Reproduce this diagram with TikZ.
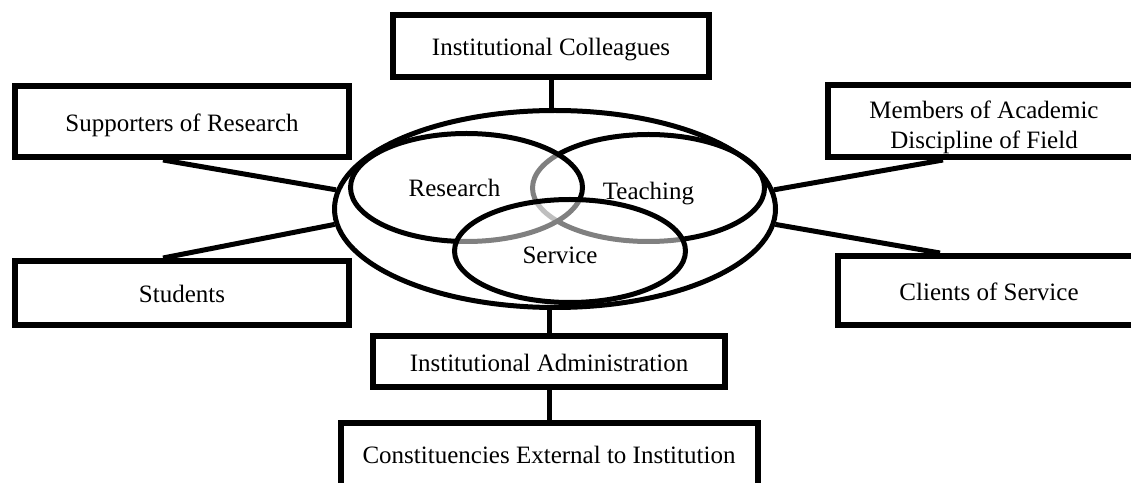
\documentclass[tikz,border=0pt]{standalone}
\usepackage{fontspec}
\setmainfont{Liberation Serif}
\usetikzlibrary{shapes.geometric,positioning}

\begin{document}
\begin{tikzpicture}[x=1pt,y=1pt,
  box/.style={draw, line width=6pt, rectangle, inner sep=0pt,
    text height=20pt, text depth=0pt},
  circle3/.style={draw, line width=5pt, ellipse, inner sep=0pt},
  link/.style={line width=5pt},
  font=\fontsize{25}{30}\selectfont]
  \useasboundingbox (0,0) rectangle (1131,482);
  \clip (0,0) rectangle (1131,482);
  \node (core) [circle3, minimum width=441, minimum height=197] at (555,273) {};
  \node (teaching) [circle3, minimum width=232, minimum height=107] at (648.5,294) {};
  \node (research) [circle3, fill=white, fill opacity=0.5,
    minimum width=232, minimum height=108] at (466.5,294.5) {};
  \node (service) [circle3, fill=white, fill opacity=0.5,
    minimum width=231, minimum height=103] at (570,231) {};
  \node (researchLabel) at ([xshift=-12pt]research.center) {Research};
  \node (teachingLabel) at ([yshift=-6pt]teaching.center) {Teaching};
  \node (serviceLabel) at ([xshift=-10pt,yshift=-4pt]service.center) {Service};
  \node (colleagues) [box, minimum width=316, minimum height=62,
    above=28pt of core, xshift=-4pt] {Institutional Colleagues};
  \node (admin) [box, minimum width=352, minimum height=51,
    below=23pt of core, xshift=-6pt] {Institutional Administration};
  \node (external) [box, minimum width=417, minimum height=70, text height=10pt,
    below=30pt of admin] {Constituencies External to Institution};
  \node (supporters) [box, minimum width=334, minimum height=71]
    at (182,360.5) {Supporters of Research};
  \node (students) [box, minimum width=334, minimum height=64]
    at (182,189) {Students};
  \node (members) [box, minimum width=312, minimum height=72]
    at (984,361) {};
  \node (membersLabel) [align=center] at ([yshift=-6pt]members.center)
    {Members of Academic\\Discipline of Field};
  \node (clients) [box, minimum width=302, minimum height=69]
    at (989,191.5) {Clients of Service};
  \draw[link] (colleagues.south) -- (colleagues.south |- core.north);
  \draw[link] (admin.north) -- (admin.north |- core.south);
  \draw[link] (admin.south) -- (admin.south |- external.north);
  \draw[link] ([xshift=-19pt]supporters.south) -- (core.175);
  \draw[link] ([xshift=-19pt]students.north) -- (core.184);
  \draw[link] ([xshift=-41pt]members.south) -- (core.5);
  \draw[link] ([xshift=-49pt]clients.north) -- (core.356);
\end{tikzpicture}
\end{document}
